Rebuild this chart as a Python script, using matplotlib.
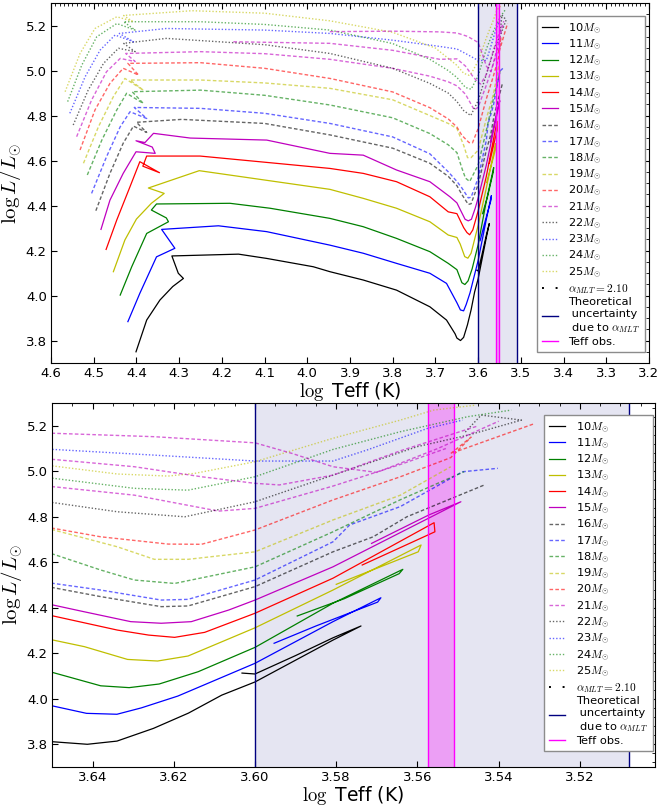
import matplotlib
matplotlib.use("Agg")
import matplotlib.pyplot as plt
from matplotlib.ticker import MultipleLocator

plt.rcParams['mathtext.fontset'] = 'cm'
plt.rcParams['font.family'] = 'DejaVu Sans'

# evolutionary tracks: log Teff, log L/Lsun
t10 = [4.401, 4.376, 4.345, 4.315, 4.290, 4.302, 4.317, 4.161, 4.095, 3.986, 3.947, 3.869, 3.791, 3.713, 3.674, 3.654,
       3.6497, 3.6413, 3.634, 3.625, 3.6164, 3.6082, 3.600, 3.5808, 3.5739, 3.5808, 3.590, 3.600, 3.6032]
l10 = [3.750, 3.891, 3.980, 4.040, 4.076, 4.099, 4.176, 4.184, 4.165, 4.128, 4.106, 4.069, 4.024, 3.950, 3.891, 3.830,
       3.811, 3.800, 3.814, 3.870, 3.937, 4.016, 4.074, 4.258, 4.320, 4.268, 4.190, 4.109, 4.113]

t11 = [4.420, 4.392, 4.353, 4.310, 4.341, 4.208, 4.095, 3.947, 3.869, 3.791, 3.713, 3.674, 3.6497, 3.6415, 3.634,
       3.628, 3.619, 3.600, 3.5808, 3.569, 3.5698, 3.585, 3.5953]
l11 = [3.884, 4.010, 4.172, 4.210, 4.294, 4.310, 4.284, 4.224, 4.188, 4.143, 4.099, 4.054, 3.968, 3.936, 3.932,
       3.960, 4.012, 4.156, 4.339, 4.444, 4.425, 4.320, 4.244]

t12 = [4.438, 4.411, 4.376, 4.325, 4.330, 4.365, 4.353, 4.181, 4.087, 3.947, 3.869, 3.791, 3.713, 3.670, 3.6497,
       3.638, 3.631, 3.6236, 3.614, 3.600, 3.5808, 3.5636, 3.5645, 3.578, 3.5896]
l12 = [4.002, 4.128, 4.276, 4.328, 4.345, 4.380, 4.407, 4.410, 4.388, 4.343, 4.306, 4.254, 4.195, 4.143, 4.115,
       4.057, 4.049, 4.065, 4.119, 4.226, 4.420, 4.569, 4.550, 4.440, 4.364]

t13 = [4.454, 4.427, 4.400, 4.365, 4.335, 4.372, 4.253, 3.947, 3.869, 3.791, 3.713, 3.670, 3.6497, 3.642, 3.6314,
       3.624, 3.6165, 3.600, 3.5808, 3.5591, 3.5598, 3.580]
l13 = [4.106, 4.247, 4.340, 4.410, 4.454, 4.478, 4.555, 4.472, 4.432, 4.388, 4.328, 4.269, 4.258, 4.229, 4.173,
       4.166, 4.188, 4.312, 4.478, 4.676, 4.646, 4.503]

t14 = [4.471, 4.446, 4.415, 4.392, 4.346, 4.385, 4.376, 4.251, 3.947, 3.869, 3.791, 3.713, 3.670, 3.6497, 3.6339,
       3.6262, 3.6198, 3.6124, 3.600, 3.5808, 3.5559, 3.5557, 3.5736]
l14 = [4.205, 4.336, 4.484, 4.595, 4.546, 4.575, 4.620, 4.620, 4.565, 4.543, 4.506, 4.439, 4.372, 4.364, 4.302,
       4.280, 4.270, 4.292, 4.376, 4.530, 4.774, 4.734, 4.588]

t15 = [4.483, 4.462, 4.431, 4.401, 4.356, 4.363, 4.401, 4.380, 4.360, 4.274, 4.095, 3.947, 3.869, 3.791, 3.713,
       3.666, 3.6497, 3.6422, 3.6306, 3.6231, 3.6157, 3.6065, 3.600, 3.5808, 3.5493, 3.5572, 3.5713]
l15 = [4.294, 4.424, 4.543, 4.639, 4.632, 4.660, 4.688, 4.680, 4.721, 4.700, 4.691, 4.632, 4.624, 4.558, 4.506,
       4.439, 4.412, 4.383, 4.339, 4.332, 4.339, 4.390, 4.434, 4.580, 4.866, 4.808, 4.683]

t16 = [4.495, 4.462, 4.431, 4.407, 4.376, 4.400, 4.294, 4.10, 3.947, 3.80, 3.713, 3.670, 3.6496, 3.638, 3.6231,
       3.6165, 3.600, 3.5808, 3.5709, 3.5626, 3.5435]
l16 = [4.377, 4.543, 4.677, 4.753, 4.725, 4.770, 4.783, 4.765, 4.714, 4.655, 4.588, 4.530, 4.488, 4.449, 4.405,
       4.408, 4.493, 4.646, 4.712, 4.800, 4.940]

t17 = [4.505, 4.470, 4.438, 4.415, 4.376, 4.405, 4.25, 4.10, 3.947, 3.80, 3.713, 3.670, 3.6496, 3.638, 3.6231,
       3.6165, 3.600, 3.5808, 3.5767, 3.5642, 3.5489, 3.5402]
l17 = [4.454, 4.617, 4.750, 4.817, 4.787, 4.836, 4.832, 4.810, 4.765, 4.705, 4.630, 4.550, 4.507, 4.478, 4.434,
       4.437, 4.522, 4.690, 4.764, 4.845, 4.998, 5.013]

t18 = [4.515, 4.481, 4.446, 4.423, 4.384, 4.410, 4.25, 4.10, 3.947, 3.80, 3.713, 3.670, 3.6496, 3.638, 3.6297,
       3.6198, 3.600, 3.5808, 3.5642, 3.5485]
l18 = [4.536, 4.691, 4.825, 4.899, 4.854, 4.906, 4.913, 4.890, 4.847, 4.790, 4.720, 4.670, 4.635, 4.566, 4.522,
       4.507, 4.580, 4.734, 4.875, 4.998]

t19 = [4.524, 4.489, 4.454, 4.427, 4.384, 4.415, 4.25, 4.10, 3.947, 3.80, 3.713, 3.670, 3.6496, 3.6339, 3.6248,
       3.6165, 3.600, 3.5808, 3.5642, 3.5518]
l19 = [4.588, 4.750, 4.884, 4.965, 4.913, 4.958, 4.958, 4.945, 4.921, 4.870, 4.800, 4.765, 4.742, 4.668, 4.613,
       4.613, 4.646, 4.786, 4.895, 5.020]

t20 = [4.532, 4.497, 4.462, 4.431, 4.395, 4.420, 4.25, 4.10, 3.947, 3.80, 3.713, 3.670, 3.6496, 3.638, 3.6214,
       3.6132, 3.600, 3.5808, 3.5642, 3.5518, 3.5468, 3.5518, 3.5311]
l20 = [4.647, 4.825, 4.943, 5.010, 4.980, 5.032, 5.035, 5.010, 4.965, 4.905, 4.835, 4.785, 4.749, 4.712, 4.680,
       4.679, 4.742, 4.874, 4.976, 5.060, 5.150, 5.078, 5.210]

t21 = [4.540, 4.505, 4.470, 4.438, 4.403, 4.425, 4.25, 4.10, 3.947, 3.80, 3.713, 3.670, 3.6496, 3.6297, 3.609,
       3.600, 3.5808, 3.5642, 3.553]
l21 = [4.706, 4.869, 4.995, 5.054, 5.040, 5.076, 5.084, 5.075, 5.050, 5.010, 4.975, 4.950, 4.932, 4.895, 4.825,
       4.837, 4.935, 5.030, 5.100]

# two further magenta dashed branches
t21b = [4.173, 3.947, 3.80, 3.69, 3.6496, 3.6297, 3.6132, 3.600, 3.594, 3.5808, 3.5642, 3.545]
l21b = [5.128, 5.121, 5.090, 5.050, 5.052, 5.020, 4.976, 4.947, 4.940, 4.983, 5.090, 5.200]
t21c = [3.947, 3.80, 3.69, 3.6496, 3.6248, 3.600, 3.5908, 3.5808, 3.570, 3.555, 3.540]
l21c = [5.173, 5.175, 5.172, 5.167, 5.152, 5.125, 5.078, 5.020, 4.995, 5.100, 5.220]

t22 = [4.548, 4.513, 4.477, 4.442, 4.403, 4.430, 4.33, 4.10, 3.947, 3.80, 3.713, 3.670, 3.6496, 3.6339, 3.6173,
       3.600, 3.5808, 3.5601, 3.5473, 3.5344, 3.5443, 3.5485]
l22 = [4.758, 4.913, 5.032, 5.099, 5.084, 5.121, 5.143, 5.115, 5.076, 5.010, 4.943, 4.900, 4.862, 4.822, 4.800,
       4.866, 4.983, 5.108, 5.160, 5.225, 5.247, 5.167]

t23 = [4.556, 4.520, 4.485, 4.450, 4.407, 4.440, 4.33, 4.10, 3.947, 3.80, 3.700, 3.6496, 3.6248, 3.600, 3.5808,
       3.5725, 3.5576, 3.5489]
l23 = [4.810, 4.973, 5.091, 5.158, 5.128, 5.165, 5.187, 5.180, 5.165, 5.135, 5.110, 5.096, 5.071, 5.045, 5.045,
       5.093, 5.188, 5.225]

t24 = [4.561, 4.528, 4.493, 4.446, 4.403, 4.430, 4.25, 4.10, 3.947, 3.80, 3.713, 3.670, 3.6496, 3.6297, 3.6165,
       3.600, 3.5808, 3.5642, 3.5476, 3.5369]
l24 = [4.862, 5.024, 5.150, 5.209, 5.180, 5.217, 5.217, 5.205, 5.180, 5.120, 5.050, 5.000, 4.969, 4.925, 4.917,
       4.976, 5.096, 5.174, 5.240, 5.269]

t25 = [4.567, 4.532, 4.497, 4.446, 4.410, 4.430, 4.27, 4.10, 3.947, 3.80, 3.700, 3.6496, 3.6339, 3.6214, 3.6148,
       3.600, 3.5808, 3.5642, 3.556, 3.546]
l25 = [4.906, 5.076, 5.187, 5.239, 5.220, 5.245, 5.266, 5.255, 5.221, 5.170, 5.100, 5.023, 4.988, 4.979, 4.991,
       5.042, 5.145, 5.225, 5.269, 5.290]

masses = [10, 11, 12, 13, 14, 15, 16, 17, 18, 19, 20, 21, 22, 23, 24, 25]
teffs = [t10, t11, t12, t13, t14, t15, t16, t17, t18, t19, t20, t21, t22, t23, t24, t25]
lums = [l10, l11, l12, l13, l14, l15, l16, l17, l18, l19, l20, l21, l22, l23, l24, l25]

# alpha_MLT uncertainty range and observed Teff
teff_mlt = [3.600, 3.508]
teff_obs = [3.5575, 3.551]

colors = ['k', 'b', 'g', 'y', 'r', 'm']
dash = (0, (2.6, 1.6))
dot = (0, (1, 1.4))


def style(i):
    c = colors[i % 6]
    if i < 6:
        return dict(color=c, ls='-', lw=0.9, alpha=1.0)
    if i < 12:
        return dict(color=c, ls=dash, lw=1.0, alpha=0.6)
    return dict(color=c, ls=dot, lw=1.0, alpha=0.6)


def draw(ax, anchor):
    handles = []
    for i, m in enumerate(masses):
        h, = ax.plot(teffs[i], lums[i], label=r'%d$M_{\odot}$' % m, **style(i))
        handles.append(h)
    for t, l in [(t21b, l21b), (t21c, l21c)]:
        ax.plot(t, l, **style(11))
    h, = ax.plot([], [], color='k', ls=(0, (1, 6)), lw=1.4, label=r'$\alpha_{MLT}=2.10$')
    handles.append(h)
    ax.axvspan(teff_mlt[0], teff_mlt[1], color='navy', alpha=0.1, lw=0)
    ax.axvline(teff_mlt[0], color='navy', lw=1)
    h = ax.axvline(teff_mlt[1], color='navy', lw=1,
                   label='Theoretical\n uncertainty\n due to $\\alpha_{MLT}$')
    handles.append(h)
    ax.axvspan(teff_obs[0], teff_obs[1], color='magenta', alpha=0.3, lw=0)
    ax.axvline(teff_obs[0], color='magenta', lw=1)
    h = ax.axvline(teff_obs[1], color='magenta', lw=1, label='Teff obs.')
    handles.append(h)

    ax.set_ylim(3.7, 5.3)
    ax.set_xlabel(r'$\log$ Teff (K)', fontsize=13.5, labelpad=0)
    ax.set_ylabel(r'$\log L/L_{\odot}$', fontsize=15, labelpad=1)
    ax.tick_params(which='both', direction='in', top=True, right=True, labelsize=9.5, pad=3)
    ax.tick_params(which='major', length=4)
    ax.tick_params(which='minor', length=2.5, bottom=False, left=False)
    leg = ax.legend(handles=handles, loc='upper right', fontsize=8.2, labelspacing=0.16,
                    handlelength=1.4, handletextpad=0.9, borderpad=0.45, borderaxespad=0,
                    fancybox=False, framealpha=1.0, bbox_to_anchor=anchor)
    leg.get_frame().set_edgecolor('0.55')
    return ax


fig = plt.figure(figsize=(6.59, 8.08), dpi=100)
ax1 = fig.add_axes([0.0774, 0.5507, 0.9074, 0.4455])
ax2 = fig.add_axes([0.0789, 0.0507, 0.9150, 0.4505])

draw(ax1, (0.993, 0.964))
ax1.set_xlim(4.6, 3.2)
ax1.xaxis.set_major_locator(MultipleLocator(0.1))
ax1.xaxis.set_minor_locator(MultipleLocator(0.01))
ax1.yaxis.set_minor_locator(MultipleLocator(0.05))

draw(ax2, (0.996, 0.967))
ax2.set_xlim(3.65, 3.5015)
ax2.xaxis.set_major_locator(MultipleLocator(0.02))
ax2.xaxis.set_minor_locator(MultipleLocator(0.005))
ax2.yaxis.set_minor_locator(MultipleLocator(0.04))

fig.savefig('out.png', dpi=100)
